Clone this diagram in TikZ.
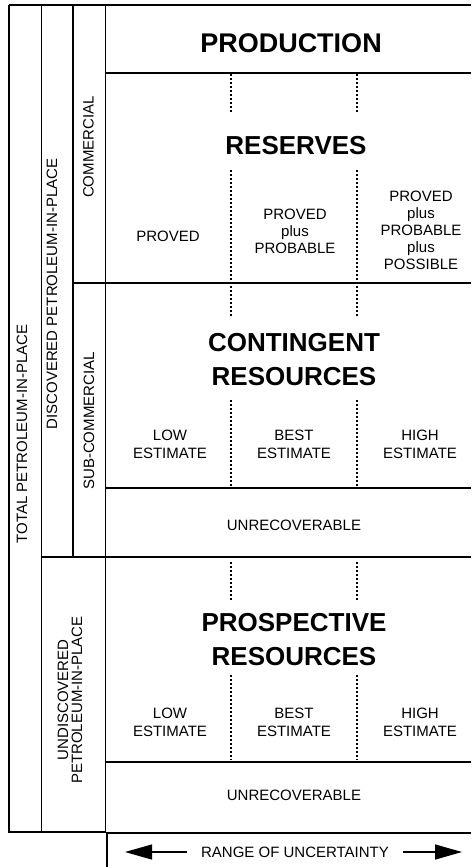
\documentclass[tikz,border=0pt]{standalone}
\usepackage{fontspec}
\setmainfont{Liberation Sans}
\usetikzlibrary{arrows.meta}

\begin{document}
\begin{tikzpicture}
    [x=1pt,y=-1pt,
     frame/.style={line width=1.2pt},
     band/.style={line width=1.7pt},
     divider/.style={line width=1.2pt,dash pattern=on 2pt off 2pt},
     title/.style={font=\bfseries\fontsize{26}{34}\selectfont,align=center,inner sep=0pt},
     cat/.style={font=\fontsize{15}{17}\selectfont,align=center,inner sep=0pt},
     est/.style={font=\fontsize{15}{18}\selectfont,align=center,inner sep=0pt},
     side/.style={font=\fontsize{15}{14}\selectfont,align=center,inner sep=0pt,rotate=90},
     spanarrow/.style={-{Triangle[length=27pt,width=15pt]},line width=1.2pt}]

    \useasboundingbox (0,0) rectangle (471,867);

    % side columns
    \draw[frame] (9,5) -- (471,5);
    \draw[frame] (9,5) -- (9,832) -- (105.7,832);
    \draw[frame] (41.7,5) -- (41.7,832);
    \draw[frame] (73,5) -- (73,557);
    \draw[frame] (105.7,5) -- (105.7,832);
    \draw[frame] (107,833) -- (107,867);

    % bands
    \draw[band] (105.7,72.7) -- (471,72.7);
    \draw[band] (73,283) -- (471,283);
    \draw[band] (105.7,488) -- (471,488);
    \draw[band] (41.7,557) -- (471,557);
    \draw[band] (105.7,762) -- (471,762);
    \draw[band] (105.7,833) -- (471,833);

    \foreach \x in {231,357} {
      \draw[divider] (\x,74) -- (\x,113);
      \draw[divider] (\x,170) -- (\x,288);
      \draw[divider] (\x,278) -- (\x,316);
      \draw[divider] (\x,400) -- (\x,488);
      \draw[divider] (\x,562) -- (\x,600);
      \draw[divider] (\x,675) -- (\x,760);
    }

    \node[side] (total) at (22,434) {TOTAL PETROLEUM-IN-PLACE};
    \node[side] (discovered) at (52,294) {DISCOVERED PETROLEUM-IN-PLACE};
    \node[side] (commercial) at (88.5,147) {COMMERCIAL};
    \node[side] (subcommercial) at (89,421) {SUB-COMMERCIAL};
    \node[side] (undiscovered) at (70,700) {UNDISCOVERED\\PETROLEUM-IN-PLACE};

    \node[title,font=\bfseries\fontsize{27}{34}\selectfont] (production) at (291,43) {PRODUCTION};
    \node[title] (reserves) at (296,146) {RESERVES};
    \node[title] (contingent) at (294,360) {CONTINGENT\\RESOURCES};
    \node[title] (prospective) at (294,640) {PROSPECTIVE\\RESOURCES};

    \node[cat] (proved) at (168,236) {PROVED};
    \node[cat] (probable) at (295,231) {PROVED\\plus\\PROBABLE};
    \node[cat] (possible) at (421,230) {PROVED\\plus\\PROBABLE\\plus\\POSSIBLE};

    \node[est] (clow) at (170,444) {LOW\\ESTIMATE};
    \node[est] (cbest) at (294,444) {BEST\\ESTIMATE};
    \node[est] (chigh) at (420,444) {HIGH\\ESTIMATE};
    \node[cat] (cunrec) at (294,525) {UNRECOVERABLE};

    \node[est] (plow) at (170,722) {LOW\\ESTIMATE};
    \node[est] (pbest) at (294,722) {BEST\\ESTIMATE};
    \node[est] (phigh) at (420,722) {HIGH\\ESTIMATE};
    \node[cat] (punrec) at (294,795) {UNRECOVERABLE};

    \node[cat,inner xsep=14pt] (uncertainty) at (295,852) {RANGE OF UNCERTAINTY};
    \coordinate (lefttip) at (125,852);
    \coordinate (righttip) at (462,852);
    \draw[spanarrow] (uncertainty.west) -- (lefttip);
    \draw[spanarrow] (uncertainty.east) -- (righttip);
  \end{tikzpicture}
\end{document}
